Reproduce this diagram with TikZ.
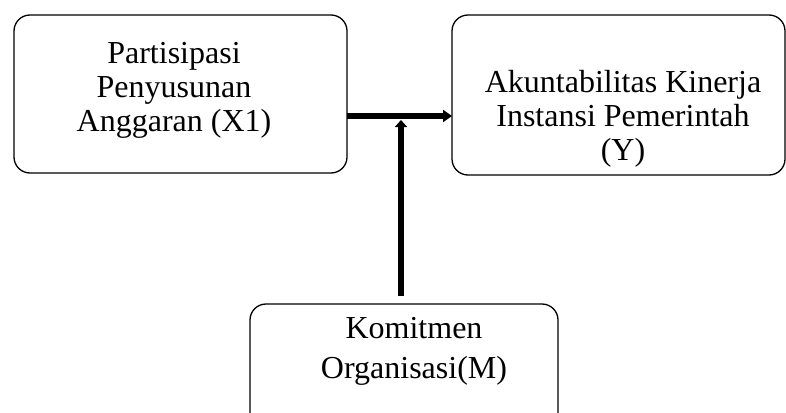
\documentclass[tikz,border=0pt]{standalone}
\usepackage{fontspec}
\setmainfont{Liberation Serif}
\usetikzlibrary{arrows.meta}
\begin{document}
\begin{tikzpicture}[x=1pt,y=-1pt,
  boxstyle/.style={draw=black,line width=1.3pt,rounded corners=16pt,inner sep=0pt},
  txt/.style={anchor=base,align=center,inner sep=0pt,font=\fontsize{32}{34}\selectfont},
  thickarrow/.style={line width=6pt,-{Triangle[length=9pt,width=12pt]}}]
\fill[white] (0,0) rectangle (786,412);
\useasboundingbox (0,0) rectangle (786,412);
\draw[boxstyle] (14,15) rectangle (347,173);
\draw[boxstyle] (452,15) rectangle (785,175);
\draw[boxstyle] (250,304) rectangle (558,430);
\coordinate (x1) at (347,116);
\coordinate (y) at (452,116);
\coordinate (j) at (401,116);
\coordinate (m) at (401,296);
\node[txt] (tx1) at (174,131) {Partisipasi\\Penyusunan\\Anggaran (X1)};
\node[txt] (ty) at (623,160) {Akuntabilitas Kinerja\\Instansi Pemerintah\\(Y)};
\node[txt,font=\fontsize{32}{40}\selectfont] (tm) at (414,378) {Komitmen\\Organisasi(M)};
\draw[thickarrow] (x1) -- (y);
\draw[line width=5.5pt,-{Triangle[length=7pt,width=12pt]}] (m) -- ([yshift=-4pt]j);
\end{tikzpicture}
\end{document}
